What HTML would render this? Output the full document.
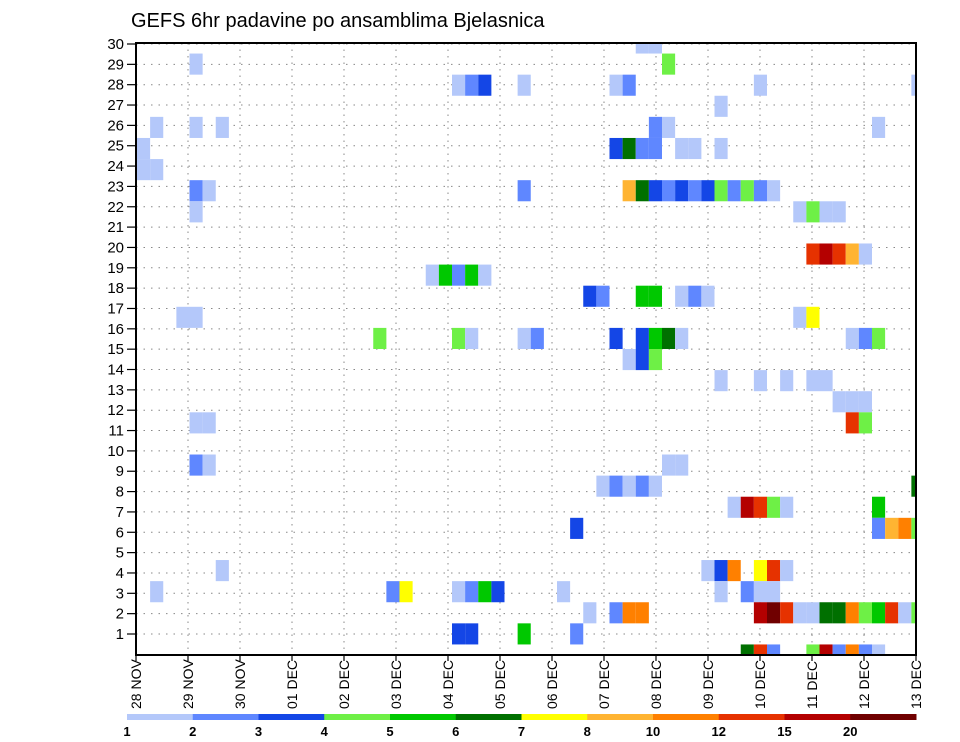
<!DOCTYPE html>
<html><head><meta charset="utf-8"><style>
body{margin:0;background:#fff;}
svg{display:block;font-family:"Liberation Sans",sans-serif;}
</style></head><body>
<svg id="chart" width="960" height="742" viewBox="0 0 960 742">
<text x="131" y="27" font-size="20" fill="#000">GEFS 6hr padavine po ansamblima Bjelasnica</text>
<g id="grid"></g>
<g id="cells"></g>
<rect x="136" y="43" width="780" height="612" fill="none" stroke="#000" stroke-width="2"/>
<g id="yaxis"></g>
<g id="xaxis"></g>
<g id="colorbar"></g>
</svg>
<script>
// ---- data ----
const dayLabels = ["28 NOV","29 NOV","30 NOV","01 DEC","02 DEC","03 DEC","04 DEC","05 DEC","06 DEC","07 DEC","08 DEC","09 DEC","10 DEC","11 DEC","12 DEC","13 DEC"];
const yTickLabels = [1,2,3,4,5,6,7,8,9,10,11,12,13,14,15,16,17,18,19,20,21,22,23,24,25,26,27,28,29,30];
const levelThresholds = [1,2,3,4,5,6,7,8,10,12,15,20];
const levelColors = ["#b4c8fa","#5f87ff","#1446e6","#6ef046","#00c800","#007000","#ffff00","#ffb432","#ff8000","#e63200","#b40000","#700000"];
// ensemble member (1..30), 6-hour step index from 28 NOV 00z, precipitation mm
const cellMember = [
30,30,29,29,
28,28,28,28,28,28,28,28,
27,
26,26,26,26,26,26,
25,25,25,25,25,25,25,25,
24,24,
23,23,23,23,23,23,23,23,23,23,23,23,23,23,23,
22,22,22,22,22,
20,20,20,20,20,
19,19,19,19,19,
18,18,18,18,18,18,18,
17,17,17,17,
16,16,16,16,16,16,16,16,16,16,16,16,16,
15,15,15,
14,14,14,14,14,
13,13,13,
12,12,12,12,
10,10,10,10,
9,9,9,9,9,9,
8,8,8,8,8,8,
7,7,7,7,7,
5,5,5,5,5,5,5,
4,4,4,4,4,4,4,4,4,4,4,4,
3,3,3,3,3,3,3,3,3,3,3,3,3,3,3,3,3,
2,2,2,2,
1,1,1,1,1,1,1,1,1
];
const cellStep = [
38,39,4,40,
24,25,26,29,36,37,47,59,
44,
1,4,6,39,40,56,
0,36,37,38,39,41,42,44,
0,1,
4,5,29,37,38,39,40,41,42,43,44,45,46,47,48,
4,50,51,52,53,
51,52,53,54,55,
22,23,24,25,26,
34,35,38,39,41,42,43,
3,4,50,51,
18,24,25,29,30,36,38,39,40,41,54,55,56,
37,38,39,
44,47,49,51,52,
53,54,55,
4,5,54,55,
4,5,40,41,
35,36,37,38,39,59,
45,46,47,48,49,56,
33,56,57,58,59,
6,43,44,45,47,48,49,
1,19,20,24,25,26,27,32,44,46,47,48,
36,37,38,47,48,49,50,51,52,53,54,55,56,57,58,59,34,
24,25,29,33,
46,47,48,51,52,53,54,55,56
];
const cellPrecip = [
1.5,1.5,1.5,4.5,
1.5,2.5,3.5,1.5,1.5,2.5,1.5,1.5,
1.5,
1.5,1.5,1.5,2.5,1.5,1.5,
1.5,3.5,6.5,2.5,2.5,1.5,1.5,1.5,
1.5,1.5,
2.5,1.5,2.5,9,6.5,3.5,2.5,3.5,2.5,3.5,4.5,2.5,4.5,2.5,1.5,
1.5,1.5,4.5,1.5,1.5,
13.5,17.5,13.5,9,1.5,
1.5,5.5,2.5,5.5,1.5,
3.5,2.5,5.5,5.5,1.5,2.5,1.5,
1.5,1.5,1.5,7.5,
4.5,4.5,1.5,1.5,2.5,3.5,3.5,5.5,6.5,1.5,1.5,2.5,4.5,
1.5,3.5,4.5,
1.5,1.5,1.5,1.5,1.5,
1.5,1.5,1.5,
1.5,1.5,13.5,4.5,
2.5,1.5,1.5,1.5,
1.5,2.5,1.5,2.5,1.5,6.5,
1.5,17.5,13.5,4.5,1.5,5.5,
3.5,2.5,9,11,4.5,
1.5,1.5,3.5,11,7.5,13.5,1.5,
1.5,2.5,7.5,1.5,2.5,5.5,3.5,1.5,1.5,2.5,1.5,1.5,
2.5,11,11,17.5,22,13.5,1.5,1.5,6.5,6.5,11,4.5,5.5,13.5,1.5,4.5,1.5,
3.5,3.5,5.5,2.5,
6.5,13.5,2.5,4.5,17.5,2.5,11,2.5,1.5
];
// ---- axes ----
const X0=136, X1=916, Y0=43, Y1=655, NDAYS=15;
const CELL_X0=137, CELL_W=13.125;
function xDay(d){return X0+(X1-X0)*d/NDAYS;}
function xStep(s){return CELL_X0+CELL_W*s;}
function yLabel(v){return 634-(v-1)*(634-44)/29;}
function yMember(m){return Y0+(30-m)*(Y1-Y0)/29;}
function levelIndex(p){let k=0;for(let i=0;i<levelThresholds.length;i++){if(p>=levelThresholds[i])k=i;}return k;}
const NS="http://www.w3.org/2000/svg";
function mk(tag,attrs,parent){const e=document.createElementNS(NS,tag);for(const k in attrs)e.setAttribute(k,attrs[k]);parent.appendChild(e);return e;}
const grid=document.getElementById('grid'),cells=document.getElementById('cells'),ya=document.getElementById('yaxis'),xa=document.getElementById('xaxis'),cb=document.getElementById('colorbar');
yTickLabels.forEach(v=>{
  const y=yLabel(v);
  const l=mk('line',{x1:X0,x2:X1,y1:y,y2:y,stroke:'#888','stroke-width':1,'stroke-dasharray':'1.5,6'},grid);
  
  
  const t=mk('line',{x1:X0-9,x2:X0,y1:y,y2:y,stroke:'#000','stroke-width':1.2},ya);
  
  
  const tx=mk('text',{x:X0-12,y:y+5,'font-size':15,'text-anchor':'end',fill:'#000'},ya);
  tx.textContent=v;
  
  
});
dayLabels.forEach((lab,d)=>{
  const x=xDay(d);
  const l=mk('line',{x1:x,x2:x,y1:Y0,y2:Y1,stroke:'#888','stroke-width':1,'stroke-dasharray':'1.5,5'},grid);
  
  
  const t=mk('line',{x1:x,x2:x,y1:Y1,y2:Y1+6,stroke:'#000','stroke-width':1.2},xa);
  
  
  const tx=mk('text',{x:0,y:0,'font-size':14,'text-anchor':'start',fill:'#000',transform:'translate('+(x+5)+',709) rotate(-90)'},xa);
  tx.textContent=lab;
  
  
});
const ch=(Y1-Y0)/29;
for(let i=0;i<cellMember.length;i++){
  const x=xStep(cellStep[i]);
  const right=Math.min(x+CELL_W,X1);
  let top=yMember(cellMember[i])-ch/2, bot=top+ch;
  top=Math.max(top,Y0); bot=Math.min(bot,Y1);
  const r=mk('rect',{x:x,y:top,width:right-x,height:bot-top,fill:levelColors[levelIndex(cellPrecip[i])]},cells);
  
  
}
const CB0=127, CB1=916, segW=(CB1-CB0)/levelColors.length;
levelColors.forEach((c,i)=>{
  const r=mk('rect',{x:CB0+i*segW,y:714,width:segW+0.5,height:6,fill:c},cb);
  
  
  const t=mk('text',{x:CB0+i*segW,y:736,'font-size':13,'font-weight':'bold','text-anchor':'middle',fill:'#000'},cb);
  t.textContent=levelThresholds[i];
  
  
});
</script>
</body></html>
